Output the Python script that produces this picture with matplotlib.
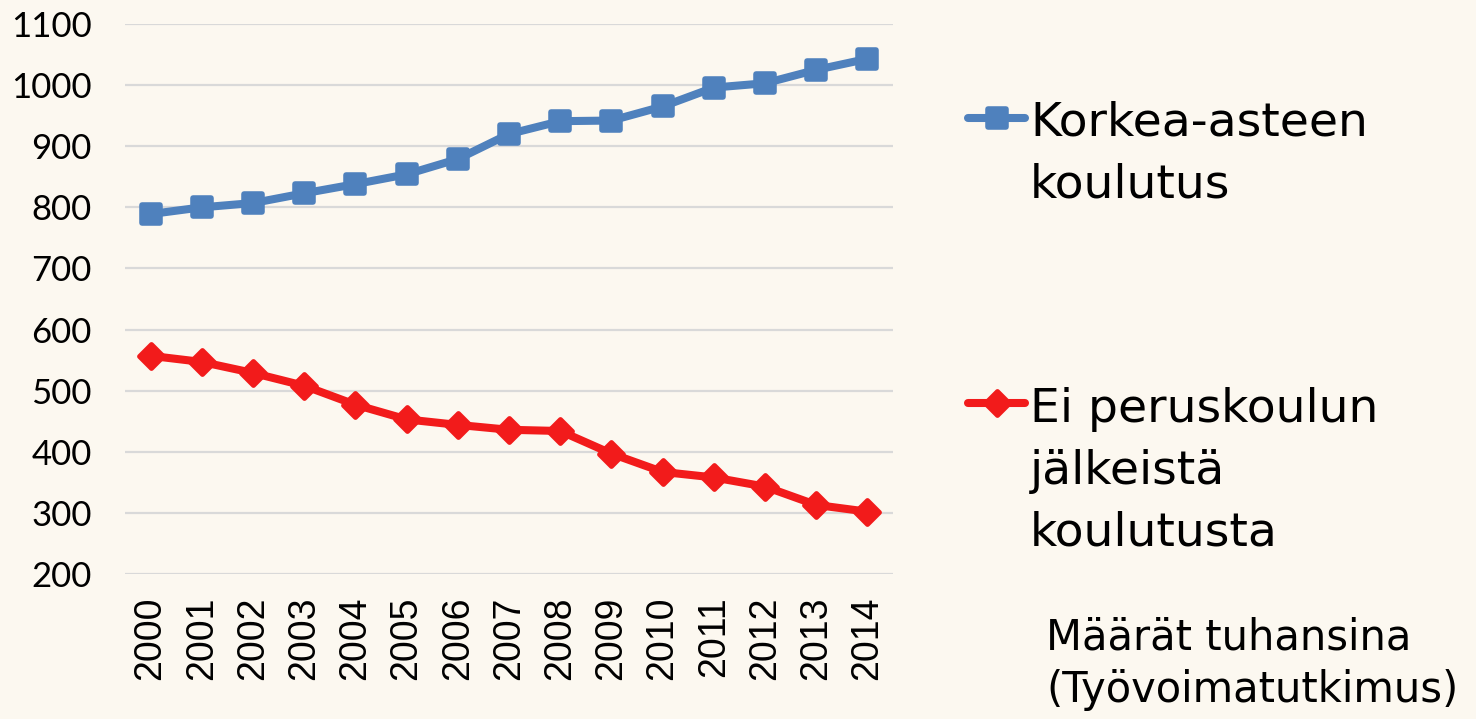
import matplotlib
matplotlib.use("Agg")
import matplotlib.pyplot as plt
from matplotlib.markers import MarkerStyle
from matplotlib.lines import Line2D

years = [str(y) for y in range(2000, 2015)]
korkea = [789, 800, 807, 823, 838, 854, 879, 920, 941, 942, 965, 996, 1003, 1025, 1043]
ei_perus = [557, 547, 529, 508, 477, 453, 444, 436, 434, 397, 367, 358, 343, 313, 302]
yticks = [200, 300, 400, 500, 600, 700, 800, 900, 1000, 1100]

label_k = ["Korkea-asteen", "koulutus"]
label_e = ["Ei peruskoulun", "jälkeistä", "koulutusta"]
note = ["Määrät tuhansina", "(Työvoimatutkimus)"]

BLUE = "#4F81BD"
RED = "#F21B1B"
BG = "#FCF8F0"

fig = plt.figure(figsize=(14.76, 7.19), dpi=100, facecolor=BG)
W, H = 1476, 719
ax = fig.add_axes([125 / W, 1 - 574 / H, (893 - 125) / W, (574 - 24) / H])
ax.set_facecolor("none")

x = list(range(len(years)))
sq = MarkerStyle("s", joinstyle="round")
dm = MarkerStyle("D", joinstyle="round")
ax.plot(x, korkea, color=BLUE, lw=5.8, marker=sq, ms=13, mew=4,
        mec=BLUE, mfc=BLUE, solid_joinstyle="round", zorder=3)
ax.plot(x, ei_perus, color=RED, lw=5.8, marker=dm, ms=12, mew=3.5,
        mec=RED, mfc=RED, solid_joinstyle="round", zorder=3)

ax.set_xlim(-0.5, len(years) - 0.5)
ax.set_ylim(200, 1100)
ax.set_yticks(yticks)
ax.set_yticklabels([str(v) for v in yticks], fontfamily="Lato", fontsize=25)
ax.set_xticks(x)
ax.set_xticklabels(years, rotation=90, fontfamily="Liberation Sans", fontsize=27)
ax.tick_params(axis="y", length=0, pad=24)
ax.tick_params(axis="x", length=0, pad=16)
ax.grid(axis="y", color="#D9D9D9", lw=1.6)
ax.set_axisbelow(True)
for s in ax.spines.values():
    s.set_visible(False)

# legend (manual)
def handle(y_px, color, marker, ms, mew):
    yf = 1 - y_px / H
    fig.add_artist(Line2D([968 / W, 1025 / W], [yf, yf], color=color, lw=5.8,
                          solid_capstyle="round", transform=fig.transFigure))
    fig.add_artist(Line2D([997 / W], [yf], marker=marker, ms=ms, mew=mew,
                          mec=color, mfc=color, transform=fig.transFigure))

def lines(x_px, y0_px, step_px, texts, size):
    for i, t in enumerate(texts):
        fig.text(x_px / W, 1 - (y0_px + i * step_px) / H, t, fontsize=size,
                 fontfamily="DejaVu Sans", va="baseline", ha="left")

handle(118, BLUE, sq, 13, 4)
handle(403, RED, dm, 12, 3.5)
lines(1030, 135, 62, label_k, 34)
lines(1030, 422, 62, label_e, 34)
lines(1046, 650, 52, note, 30)

fig.savefig("out.png", dpi=100, facecolor=BG)
